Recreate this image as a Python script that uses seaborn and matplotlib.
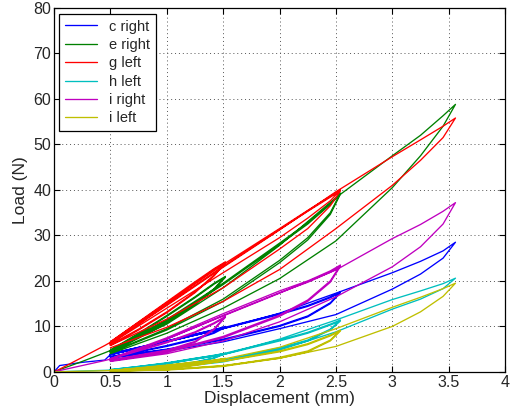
import pandas as pd
import matplotlib
matplotlib.use("Agg")
import matplotlib.pyplot as plt
import seaborn as sns

# displacement grids (mm) for the preload ramp and the three loop amplitudes
X_PRE = [0.0, 0.05, 0.25, 0.45, 0.5]
X_15 = [0.5, 0.75, 1.0, 1.25, 1.42, 1.52]
X_25 = [0.5, 1.0, 1.5, 2.0, 2.25, 2.45, 2.54]
X_35 = [0.5, 1.0, 1.5, 2.0, 2.5, 3.0, 3.25, 3.45, 3.56]
CYCLE_X = [X_15, X_15, X_25, X_25, X_35]

SPECIMENS = ["c right", "e right", "g left", "h left", "i right", "i left"]
COLORS = ["#0000ff", "#008000", "#ff0000", "#00bfbf", "#bf00bf", "#bfbf00"]

# loads (N): preload ramp, loading branches, unloading branches
c_right_pre = [0.0, 1.4, 2.1, 2.6, 3.8]
c_right_up = [[4.0, 5.4, 6.8, 8.3, 9.3, 10.0], [3.8, 5.2, 6.6, 8.1, 9.1, 9.8],
              [4.0, 6.8, 9.7, 12.8, 14.6, 16.5, 17.6], [3.8, 6.6, 9.5, 12.6, 14.4, 16.3, 17.4],
              [3.8, 6.6, 9.5, 12.9, 17.3, 21.8, 24.3, 26.6, 28.5]]
c_right_dn = [[3.4, 4.5, 5.8, 7.3, 8.7, 10.0], [3.3, 4.4, 5.6, 7.1, 8.5, 9.8],
              [3.3, 5.0, 7.2, 10.2, 12.3, 15.2, 17.6], [3.2, 4.9, 7.0, 10.0, 12.1, 15.0, 17.4],
              [3.0, 4.6, 6.6, 9.5, 12.6, 18.2, 21.5, 25.0, 28.5]]

e_right_pre = [0.0, 0.5, 2.3, 4.2, 4.7]
e_right_up = [[4.8, 8.5, 12.4, 16.5, 19.5, 21.0], [4.6, 8.3, 12.2, 16.3, 19.3, 20.8],
              [4.8, 11.5, 19.5, 28.3, 32.8, 37.0, 39.3], [4.6, 11.2, 19.2, 28.0, 32.5, 36.8, 39.1],
              [4.6, 10.5, 18.5, 27.8, 38.3, 47.5, 52.0, 56.3, 58.8]]
e_right_dn = [[4.4, 7.6, 11.0, 15.0, 18.3, 21.0], [4.3, 7.4, 10.8, 14.8, 18.1, 20.8],
              [4.3, 9.5, 16.0, 24.5, 29.5, 35.0, 39.3], [4.2, 9.2, 15.5, 24.0, 29.0, 34.6, 39.1],
              [4.0, 8.5, 14.0, 20.5, 28.8, 40.5, 47.5, 54.0, 58.8]]

g_left_pre = [0.0, 0.6, 3.2, 5.8, 6.5]
g_left_up = [[6.6, 11.0, 15.4, 19.8, 22.7, 24.2], [6.2, 10.6, 15.0, 19.5, 22.5, 24.0],
             [6.6, 15.2, 23.6, 31.5, 35.5, 38.6, 40.0], [6.3, 14.8, 23.2, 31.3, 35.3, 38.4, 39.8],
             [6.3, 14.6, 23.0, 31.2, 39.6, 47.3, 51.0, 54.0, 55.8]]
g_left_dn = [[6.0, 9.4, 13.2, 17.6, 21.3, 24.2], [5.8, 9.2, 13.0, 17.4, 21.1, 24.0],
             [6.2, 14.0, 21.8, 29.5, 33.8, 37.6, 40.0], [5.8, 11.6, 18.5, 27.0, 31.5, 36.5, 39.8],
             [5.3, 9.8, 15.5, 22.5, 31.5, 41.0, 46.5, 51.5, 55.8]]

h_left_pre = [0.0, 0.05, 0.2, 0.35, 0.4]
h_left_up = [[0.5, 1.2, 2.0, 3.0, 3.6, 4.1], [0.4, 1.1, 1.9, 2.9, 3.5, 4.0],
             [0.5, 1.9, 4.0, 7.0, 8.7, 10.5, 11.4], [0.4, 1.8, 3.8, 6.8, 8.5, 10.3, 11.2],
             [0.4, 1.8, 3.8, 7.2, 11.4, 15.9, 17.8, 19.4, 20.6]]
h_left_dn = [[0.3, 0.7, 1.3, 2.2, 3.1, 4.1], [0.3, 0.6, 1.2, 2.1, 3.0, 4.0],
             [0.3, 1.0, 2.6, 5.3, 7.0, 9.4, 11.4], [0.3, 0.9, 2.4, 5.1, 6.8, 9.2, 11.2],
             [0.2, 0.8, 2.2, 4.8, 8.8, 13.8, 16.0, 18.3, 20.6]]

i_right_pre = [0.0, 0.3, 1.4, 2.5, 2.8]
i_right_up = [[2.9, 4.8, 6.6, 8.8, 10.8, 12.2], [2.8, 4.6, 6.4, 8.6, 10.6, 12.0],
              [2.9, 7.5, 12.8, 17.8, 20.0, 22.2, 23.5], [2.8, 7.2, 12.4, 17.4, 19.7, 21.9, 23.2],
              [2.8, 7.2, 12.3, 17.3, 22.4, 29.3, 32.4, 35.3, 37.2]]
i_right_dn = [[2.6, 3.7, 4.8, 6.7, 9.5, 12.2], [2.5, 3.6, 4.6, 6.5, 9.3, 12.0],
              [2.5, 4.5, 7.8, 12.5, 15.8, 20.0, 23.5], [2.4, 4.3, 7.5, 12.2, 15.5, 19.7, 23.2],
              [2.3, 4.0, 6.8, 11.0, 16.5, 23.1, 27.5, 32.5, 37.2]]

i_left_pre = [0.0, 0.03, 0.15, 0.25, 0.3]
i_left_up = [[0.3, 0.9, 1.5, 2.2, 2.6, 3.0], [0.3, 0.8, 1.4, 2.1, 2.5, 2.9],
             [0.3, 1.1, 2.4, 4.6, 6.2, 8.1, 9.2], [0.3, 1.0, 2.3, 4.4, 6.0, 7.9, 9.0],
             [0.3, 1.2, 2.8, 5.4, 9.5, 14.2, 16.4, 18.3, 19.5]]
i_left_dn = [[0.2, 0.4, 0.8, 1.5, 2.2, 3.0], [0.2, 0.4, 0.7, 1.4, 2.1, 2.9],
             [0.2, 0.5, 1.3, 3.2, 4.6, 7.0, 9.2], [0.2, 0.4, 1.2, 3.0, 4.4, 6.8, 9.0],
             [0.1, 0.5, 1.4, 3.0, 5.6, 10.0, 13.2, 16.6, 19.5]]

CURVES = {
    "c right": (c_right_pre, c_right_up, c_right_dn),
    "e right": (e_right_pre, e_right_up, e_right_dn),
    "g left": (g_left_pre, g_left_up, g_left_dn),
    "h left": (h_left_pre, h_left_up, h_left_dn),
    "i right": (i_right_pre, i_right_up, i_right_dn),
    "i left": (i_left_pre, i_left_up, i_left_dn),
}

# one continuous path per specimen: ramp, then each loop out and back
rows = []
for name in SPECIMENS:
    pre, ups, dns = CURVES[name]
    xs = list(X_PRE)
    ys = list(pre)
    for xg, up, dn in zip(CYCLE_X, ups, dns):
        xs += xg + xg[::-1]
        ys += up + dn[::-1]
    for x, y in zip(xs, ys):
        rows.append({"specimen": name, "disp": x, "load": y})
df = pd.DataFrame(rows)

sns.set_style("ticks")
plt.rcParams["font.family"] = ["Liberation Sans", "DejaVu Sans"]
plt.rcParams["xtick.direction"] = "in"
plt.rcParams["ytick.direction"] = "in"

fig = plt.figure(figsize=(5.12, 4.16), dpi=100)
ax = fig.add_axes([0.1055, 0.106, 0.881, 0.875])

sns.lineplot(data=df, x="disp", y="load", hue="specimen", hue_order=SPECIMENS,
             palette=COLORS, sort=False, estimator=None, linewidth=0.95, ax=ax)

ax.set_xlim(0, 4)
ax.set_ylim(0, 80)
ax.set_xticks([0, 0.5, 1, 1.5, 2, 2.5, 3, 3.5, 4])
ax.set_xticklabels(["0", "0.5", "1", "1.5", "2", "2.5", "3", "3.5", "4"])
ax.set_yticks(range(0, 81, 10))
ax.grid(True, linestyle=(0, (1, 3)), color="#555555", linewidth=0.7)
ax.tick_params(top=True, right=True, labelsize=11.5, length=4, width=0.8,
               color="black", pad=2)
for side in ax.spines.values():
    side.set_visible(True)
    side.set_color("black")
    side.set_linewidth(0.9)
ax.set_xlabel("Displacement (mm)", fontsize=12.5, labelpad=1)
ax.set_ylabel("Load (N)", fontsize=12.5, labelpad=4)

leg = ax.legend(loc="upper left", fontsize=10.5, frameon=True, fancybox=False,
                edgecolor="black", framealpha=1, handlelength=2.2,
                labelspacing=0.3, borderpad=0.4, borderaxespad=0,
                bbox_to_anchor=(0.012, 0.984))
leg.get_frame().set_linewidth(0.9)

fig.savefig("out.png", dpi=100)
